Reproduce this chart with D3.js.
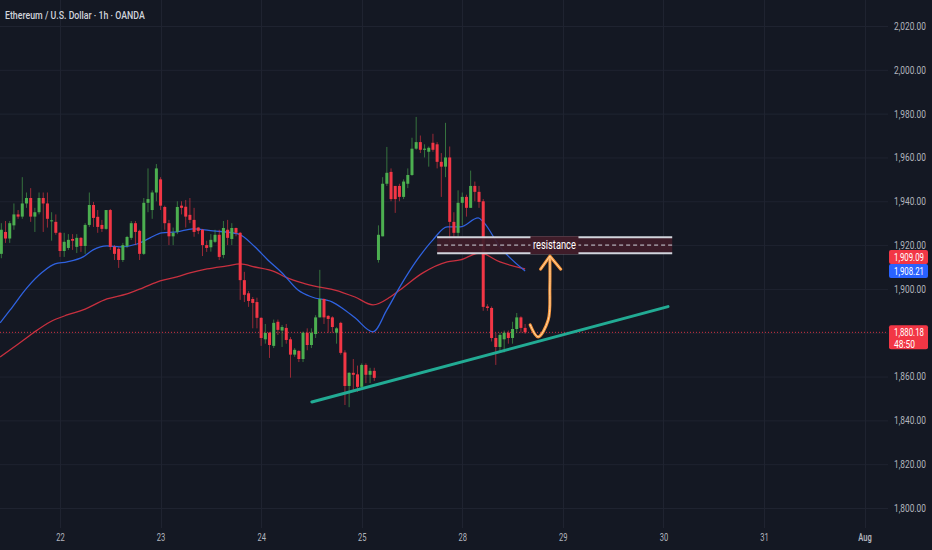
<!DOCTYPE html>
<html>
<head>
<meta charset="utf-8">
<script src="https://cdn.jsdelivr.net/npm/d3@7"></script>
<style>
html, body { margin: 0; padding: 0; background: #141823; overflow: hidden; }
svg { display: block; }
</style>
</head>
<body>
<svg id="chart" width="932" height="550"></svg>
<script>
// ===== DATA =====
const title = "Ethereum / U.S. Dollar · 1h · OANDA";
const firstIndex = -14;   // hour index of the first candle, 0 = start of day 22

const opens = [1916,1926,1923,1929,1934,1933,1939,1941.5,1933,1935,1941.5,1939,1931,1930.6,
  1925.6,1917.3,1918.7,1922.8,1919.2,1923.3,1919.6,1929.2,1938.3,1932.9,1929.2,1927.4,1936,1919.2,
  1918.3,1913.2,1919.6,1923.3,1930,1926.5,1916,1939.3,1936,1944,1950,1937.4,1930,1924,1926,
  1938,1937.5,1933.8,1931.5,1928,1927,1920,1919,1921.5,1924.7,1915.5,1927,1922.8,1927.8,1925.6,
  1904,1898,1895.4,1894,1886.8,1877,1880,1874,1885,1881,1882.2,1877,1870,1871.7,1868,1880,
  1874.4,1879.4,1887,1895.4,1887.7,1887,1880,1884.5,1871,1855.7,1861.7,1861,1855.3,1865.3,1860.8,1862.6,
  1913.2,1924,1948,1953.4,1947,1947,1942,1948,1952,1964,1967,1963.5,1962.6,1966.7,1966,1958,
  1955.8,1960,1930.6,1925.6,1939.3,1942,1937,1947,1944.3,1940,1892,1891.3,1877.6,1873.5,1877,
  1880,1877.6,1881.7,1887,1882.2];
const highs = [1930,1931,1931,1939,1936,1951,1944,1946,1937,1944,1944,1944,1935,1934,
  1926,1925.6,1925,1925,1925,1923.7,1930,1944,1939.7,1936,1931.5,1936,1936.5,1920,
  1919,1921,1924.2,1931,1931,1927,1941.5,1955,1945,1957,1951,1938,1931.5,1928,1940,
  1940,1940.6,1941.5,1937,1928.3,1927.4,1922,1925,1927,1927,1931,1931.5,1930,1928,1926,
  1907.8,1899,1896.3,1896,1887,1884,1880.4,1886,1886,1883.5,1884,1878,1873,1872,1880.5,1882,
  1882,1888,1908.7,1895.6,1888,1887.5,1882.5,1885,1872,1862,1868,1865,1866,1866,1864,1864,
  1929,1951,1964.8,1955,1947,1948,1950,1955,1969,1978.5,1970,1966,1965,1970.8,1967,1962,
  1975.8,1965,1935,1945,1944,1943,1954,1949,1947,1941,1893,1892,1880,1880,1881,
  1881,1885,1889,1887.5,1884];
const lows = [1914,1921,1921,1927,1932,1932,1937,1930.6,1926,1934,1926,1928,1922,1924.7,
  1914.6,1914.6,1917.8,1917.8,1916.4,1916.9,1916,1928.3,1928.3,1925.6,1926,1927,1917.8,1913.2,
  1909.6,1912.3,1918.7,1922.4,1920,1913.2,1915.5,1935,1932,1940,1936,1927,1920,1920,1925,
  1934,1928,1930,1923.8,1925,1915,1916.9,1917,1921,1913.2,1914,1920,1920,1924,1895,
  1894,1891.8,1882,1882,1874,1875,1868.5,1873,1879,1873.5,1875,1859.5,1869,1866.6,1866.6,1872,
  1873,1877.6,1887,1884,1880,1880,1875,1870,1847,1846,1853.5,1853,1854.5,1857,1857,1858,
  1912,1924,1947,1940,1934.7,1940,1941,1946,1951.6,1963.5,1962,1960,1955.8,1962.6,1955,1942,
  1951,1921.5,1923.8,1923.8,1929,1933,1937,1940,1937,1890,1890,1876,1865.3,1871,1871,
  1875,1875,1880,1880,1879.5];
const closes = [1927,1923,1930,1934,1933,1939,1941.5,1933,1935,1941.5,1939,1932,1931.3,1925.6,
  1917.3,1921.5,1922.4,1922,1923.3,1919.6,1929.2,1938.3,1932.4,1928.3,1927.4,1936,1919.2,1916,
  1913.2,1920,1923.7,1930,1926,1916,1939.3,1941,1944,1955,1938,1930,1924,1925.6,1937.4,
  1937,1933,1931.5,1926,1926.5,1920,1918.7,1922.4,1924.7,1914.6,1927.8,1923.3,1927.8,1925.6,1904,
  1897.3,1894.5,1893.6,1886.8,1877.6,1879.9,1874.4,1884.5,1881.3,1882.6,1876.7,1870,1872.2,1868,1880,1874.4,
  1880,1887,1895.4,1887,1886.3,1882.6,1882,1870.8,1855.7,1861.7,1860.8,1855.3,1865.3,1860.8,1862.6,1859.4,
  1924.7,1948,1953,1941,1941,1942,1949,1952,1964,1967,1963.5,1964,1964.4,1963.5,1958,1955.8,
  1960,1930.6,1925.6,1939.3,1942,1937,1947,1944.3,1939.7,1891.8,1891.3,1877.6,1873.5,1879,1880,
  1877.6,1881.7,1887,1882.2,1880.18];

// moving averages, [hour index, price]
const fastMa = [[-14.3,1884.5],[-11.9,1890.4],[-7.9,1900.5],[-4.1,1907.8],[-1.2,1911.4],[1.7,1912.3],
  [5.5,1914.6],[7.9,1917.8],[11.2,1919.6],[14.3,1919.2],[18.4,1920.5],[21.5,1923.3],[24.3,1925.6],
  [27.9,1926],[31.7,1927.4],[36.5,1926.5],[42.5,1925.1],[46.5,1919.2],[49.6,1913.2],[53,1907.3],
  [56.8,1899.5],[60.1,1896.3],[64.9,1894.1],[67.3,1891.3],[70.4,1886.8],[74.7,1880.4],[78,1890.4],
  [81.1,1900.9],[85.2,1913.2],[89,1922.4],[92.4,1928.3],[95.5,1928.3],[99.8,1932.4],[101,1930.6],
  [105,1919.2],[111,1908.21]];
const slowMa = [[-14.3,1868.9],[-10.3,1874.4],[-6.4,1879.9],[-2.4,1884.9],[1.7,1888.1],[5.5,1890.4],
  [11.2,1895.4],[16,1897.7],[19.8,1900.5],[23.9,1903.7],[27.9,1905.5],[31,1907.3],[35.1,1909.1],
  [39.9,1910.5],[43,1911.4],[46.5,1910],[51.3,1907.8],[53.7,1905.5],[57.8,1902.7],[61.6,1900.9],
  [65.6,1899.5],[70.4,1896.3],[74.7,1892.7],[78.8,1896.3],[81.1,1899.5],[86.6,1907.3],[92.4,1912.3],
  [95.5,1913.2],[100.2,1916.4],[105,1912.3],[111,1909.09]];

// drawings
const trendLine = [[60.1,1848.4],[145.1,1891.9]];
const zoneTop = 1923.6, zoneBottom = 1916.3, zoneMid = 1920;
const zoneStart = 90, zoneEnd = 146.1, zoneLabelAt = 118;
const zoneLabel = "resistance";
const arrowPath = [[112.2,1883.6],[114.1,1878.1],[116.5,1885.8],[116.9,1900.9],[116.9,1914.6]];
const arrowHead = [[114.7,1909],[116.9,1915],[119.5,1909]];

const priceTicks = [1800,1820,1840,1860,1880,1900,1920,1940,1960,1980,2000,2020];
const dayTicks = [0,24,48,72,96,120,144,168,192];
const dayLabels = ["22","23","24","25","28","29","30","31","Aug"];
const lastPrice = 1880.18;
const countdown = "48:50";

// ===== CHART =====
const W = 932, H = 550, plotR = 888, plotB = 528;
const UP = "#4caf50", DOWN = "#f23645";
const svg = d3.select("#chart");
const font = "Roboto, 'Liberation Sans', sans-serif";

const x = d3.scaleLinear().domain([-14.32, 197.6]).range([0, plotR]);
const y = d3.scaleLinear().domain([1800, 2020]).range([508, 26]);

// squeeze text horizontally around its anchor (the screenshot is narrow)
function squeeze(sel, k, fixed) {
    sel.each(function () {
        const el = d3.select(this);
        const len = this.getComputedTextLength();
        const s = fixed ? fixed / len : k;
        const ax = +el.attr("x") || 0;
        el.attr("transform", `translate(${ax},0) scale(${s},1) translate(${-ax},0)`);
    });
}

svg.append("rect").attr("width", W).attr("height", H).attr("fill", "#141823");

// grid
const grid = svg.append("g");
grid.selectAll("line.h").data(priceTicks).enter().append("line")
    .attr("x1", 0).attr("x2", plotR)
    .attr("y1", d => y(d) + 0.5).attr("y2", d => y(d) + 0.5)
    .attr("stroke", "#1f2330").attr("stroke-width", 1);
grid.selectAll("line.v").data(dayTicks).enter().append("line")
    .attr("x1", d => Math.round(x(d)) + 0.5).attr("x2", d => Math.round(x(d)) + 0.5)
    .attr("y1", 0).attr("y2", plotB)
    .attr("stroke", "#1f2330").attr("stroke-width", 1);

// price axis (labels hidden under the last price tag are dropped)
const yAxis = svg.append("g")
    .attr("transform", `translate(${plotR},0)`)
    .call(d3.axisRight(y).tickValues(priceTicks).tickSize(0).tickPadding(6)
        .tickFormat(d3.format(",.2f")));
yAxis.select(".domain").remove();
yAxis.selectAll(".tick").filter(d => Math.abs(y(d) - y(lastPrice)) < 16).remove();
yAxis.selectAll("text").attr("fill", "#b2b5be").attr("font-size", "10.5px")
    .attr("font-family", font).call(squeeze, 0, 32);

// time axis
const xAxis = svg.append("g")
    .attr("transform", `translate(0,${plotB})`)
    .call(d3.axisBottom(x).tickValues(dayTicks).tickSize(0).tickPadding(6)
        .tickFormat((d, i) => dayLabels[i]));
xAxis.select(".domain").remove();
xAxis.selectAll("text").attr("fill", "#b2b5be").attr("font-size", "10.5px")
    .attr("font-family", font)
    .attr("font-weight", (d, i) => dayLabels[i] === "Aug" ? 600 : 400)
    .call(squeeze, 0.72);

// resistance zone
const zone = svg.append("g");
zone.append("rect")
    .attr("x", x(zoneStart)).attr("width", x(zoneEnd) - x(zoneStart))
    .attr("y", y(zoneTop)).attr("height", y(zoneBottom) - y(zoneTop))
    .attr("fill", "#3f1c29").attr("fill-opacity", 0.92);
[zoneTop, zoneBottom].forEach(p => {
    zone.append("line")
        .attr("x1", x(zoneStart)).attr("x2", x(zoneEnd))
        .attr("y1", y(p)).attr("y2", y(p))
        .attr("stroke", "#d1d4dc").attr("stroke-width", 2);
});
zone.append("line")
    .attr("x1", x(zoneStart)).attr("x2", x(zoneEnd))
    .attr("y1", y(zoneMid)).attr("y2", y(zoneMid))
    .attr("stroke", "#d1d4dc").attr("stroke-width", 1).attr("stroke-dasharray", "4,3");

// moving averages
const maLine = d3.line().x(d => x(d[0])).y(d => y(d[1])).curve(d3.curveMonotoneX);
svg.append("path").attr("d", maLine(slowMa)).attr("fill", "none")
    .attr("stroke", "#c8303f").attr("stroke-width", 1.3);
svg.append("path").attr("d", maLine(fastMa)).attr("fill", "none")
    .attr("stroke", "#2f62e0").attr("stroke-width", 1.3);

// last price line
svg.append("line")
    .attr("x1", 0).attr("x2", plotR)
    .attr("y1", y(lastPrice)).attr("y2", y(lastPrice))
    .attr("stroke", DOWN).attr("stroke-width", 1).attr("stroke-dasharray", "1,2")
    .attr("opacity", 0.85);

// candles
const candles = opens.map((o, k) => ({
    i: firstIndex + k, o: o, h: highs[k], l: lows[k], c: closes[k]
}));
const cg = svg.append("g");
cg.selectAll("line").data(candles).enter().append("line")
    .attr("x1", d => x(d.i)).attr("x2", d => x(d.i))
    .attr("y1", d => y(d.h)).attr("y2", d => y(d.l))
    .attr("stroke", d => d.c >= d.o ? UP : DOWN)
    .attr("stroke-opacity", 0.6).attr("stroke-width", 1);
cg.selectAll("rect").data(candles).enter().append("rect")
    .attr("x", d => x(d.i) - 1.5).attr("width", 3)
    .attr("y", d => y(Math.max(d.o, d.c)))
    .attr("height", d => Math.max(1, Math.abs(y(d.o) - y(d.c))))
    .attr("fill", d => d.c >= d.o ? UP : DOWN);

// label of the zone, on top of the candles
const lx = x(zoneLabelAt);
zone.raise();
svg.append("rect")
    .attr("x", lx - 24).attr("width", 48)
    .attr("y", y(zoneTop) - 1).attr("height", y(zoneBottom) - y(zoneTop) + 2)
    .attr("fill", "#3f1c29");
svg.append("text")
    .attr("x", lx).attr("y", y(zoneMid)).attr("dy", "0.35em")
    .attr("text-anchor", "middle").attr("fill", "#ffffff")
    .attr("font-size", "12px").attr("font-family", font)
    .text(zoneLabel).call(squeeze, 0, 43);

// trend line
svg.append("line")
    .attr("x1", x(trendLine[0][0])).attr("y1", y(trendLine[0][1]))
    .attr("x2", x(trendLine[1][0])).attr("y2", y(trendLine[1][1]))
    .attr("stroke", "#22ab94").attr("stroke-width", 3).attr("stroke-linecap", "round");

// arrow
const arrowLine = d3.line().x(d => x(d[0])).y(d => y(d[1])).curve(d3.curveCatmullRom);
const headLine = d3.line().x(d => x(d[0])).y(d => y(d[1]));
[["#f7953b", 3], ["#ffd8a8", 1]].forEach(([col, w]) => {
    svg.append("path").attr("d", arrowLine(arrowPath)).attr("fill", "none")
        .attr("stroke", col).attr("stroke-width", w).attr("stroke-linecap", "round");
    svg.append("path").attr("d", headLine(arrowHead)).attr("fill", "none")
        .attr("stroke", col).attr("stroke-width", w)
        .attr("stroke-linecap", "round").attr("stroke-linejoin", "round");
});

// price tags on the axis
function tag(cy, h, bg, lines) {
    const g = svg.append("g");
    g.append("rect").attr("x", 889).attr("width", 39)
        .attr("y", cy - 7).attr("height", h).attr("rx", 2).attr("fill", bg);
    lines.forEach((t, k) => {
        g.append("text").attr("x", 894).attr("y", cy + k * 12).attr("dy", "0.35em")
            .attr("fill", "#ffffff").attr("font-size", "10.5px").attr("font-family", font)
            .text(t).call(squeeze, 0, k === 0 ? 30 : 21);
    });
}
const fmt = d3.format(",.2f");
const fastEnd = fastMa[fastMa.length - 1][1], slowEnd = slowMa[slowMa.length - 1][1];
const yFast = y(fastEnd), ySlow = Math.min(y(slowEnd), yFast - 14);
tag(ySlow, 14, DOWN, [fmt(slowEnd)]);
tag(yFast, 14, "#2962ff", [fmt(fastEnd)]);
tag(y(lastPrice), 24, DOWN, [fmt(lastPrice), countdown]);

// title
svg.append("text").attr("x", 5).attr("y", 15).attr("dy", "0.35em")
    .attr("fill", "#d1d4dc").attr("font-size", "11.5px").attr("font-weight", 500)
    .attr("font-family", font).text(title).call(squeeze, 0, 140);
</script>
</body>
</html>
